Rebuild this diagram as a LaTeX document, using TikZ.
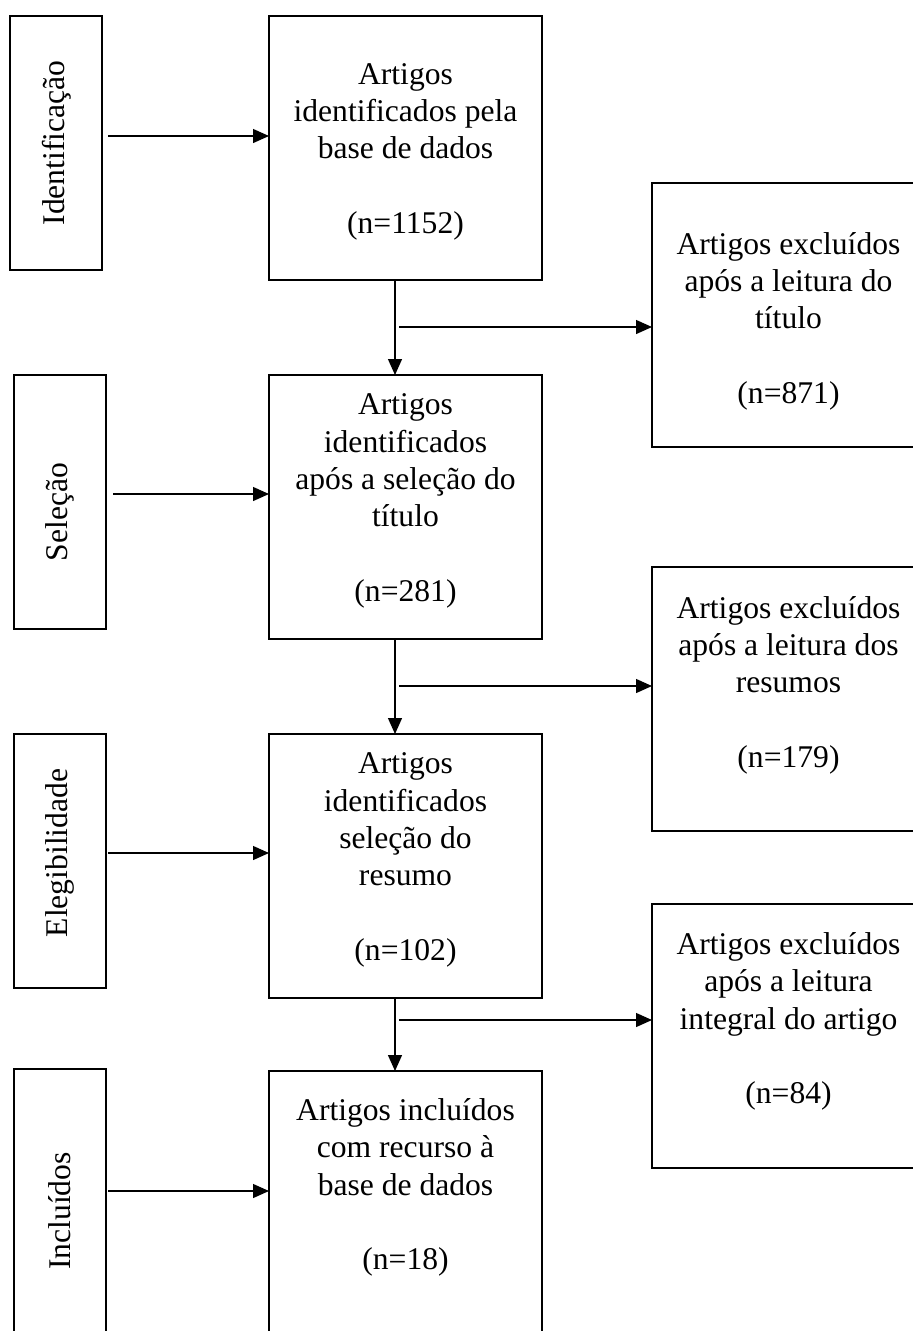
\documentclass[tikz,border=0pt]{standalone}
\usepackage{fontspec}
\setmainfont{Liberation Serif}
\usetikzlibrary{arrows.meta}
\begin{document}
\begin{tikzpicture}[x=1pt,y=-1pt,
  box/.style={draw=black,line width=2.6pt,outer sep=0pt,inner sep=0pt,anchor=north west},
  mbox/.style={box,minimum width=273pt,minimum height=264pt},
  sbox/.style={box,minimum width=92pt,minimum height=254pt},
  txt/.style={align=center,font=\fontsize{31.6}{37.3}\selectfont,inner sep=0pt},
  stxt/.style={font=\fontsize{31.6}{37.3}\selectfont,inner sep=0pt,rotate=90},
  arr/.style={line width=1.3pt,-{Triangle[length=16pt,width=14pt]}}]
\useasboundingbox (0,0) rectangle (913,1331);
\clip (0,0) rectangle (913,1331);

% left stage boxes
\node[sbox] (l1) at (10,16) {};
\node[sbox] (l2) at (14,375) {};
\node[sbox] (l3) at (14,734) {};
\node[box,minimum width=92pt,minimum height=280pt] (l4) at (14,1069) {};
\node[stxt] (l1t) at (57,143) {Identificação};
\node[stxt] (l2t) at (60,512) {Seleção};
\node[stxt] (l3t) at (60,853) {Elegibilidade};
\node[stxt] (l4t) at (60,1211) {Incluídos};

% centre boxes
\node[mbox] (c1) at (269,16) {};
\node[mbox] (c2) at (269,375) {};
\node[mbox] (c3) at (269,734) {};
\node[mbox] (c4) at (269,1071) {};
\node[txt] (c1t) at (405.5,151.5) {Artigos\\identificados pela\\base de dados\\[37.3pt](n=1152)};
\node[txt] (c2t) at (405.5,501) {Artigos\\identificados\\após a seleção do\\título\\[37.3pt](n=281)};
\node[txt] (c3t) at (405.5,860) {Artigos\\identificados\\seleção do\\resumo\\[37.3pt](n=102)};
\node[txt] (c4t) at (405.5,1187.5) {Artigos incluídos\\com recurso à\\base de dados\\[37.3pt](n=18)};

% right exclusion boxes
\node[mbox] (r1) at (652,183) {};
\node[mbox] (r2) at (652,567) {};
\node[mbox] (r3) at (652,904) {};
\node[txt] (r1t) at (788.5,321) {Artigos excluídos\\após a leitura do\\título\\[37.3pt](n=871)};
\node[txt] (r2t) at (788.5,685) {Artigos excluídos\\após a leitura dos\\resumos\\[37.3pt](n=179)};
\node[txt] (r3t) at (788.5,1021.5) {Artigos excluídos\\após a leitura\\integral do artigo\\[37.3pt](n=84)};

% arrows from stage labels
\coordinate (a1) at (108,136);
\coordinate (a2) at (113,494);
\coordinate (a3) at (108,853);
\coordinate (a4) at (108,1191);
\draw[arr] (a1) -- (a1 -| c1.west);
\draw[arr] (a2) -- (a2 -| c2.west);
\draw[arr] (a3) -- (a3 -| c3.west);
\draw[arr] (a4) -- (a4 -| c4.west);

% vertical flow
\draw[arr] ([xshift=-10.5pt]c1.south) -- ([xshift=-10.5pt]c2.north);
\draw[arr] ([xshift=-10.5pt]c2.south) -- ([xshift=-10.5pt]c3.north);
\draw[arr] ([xshift=-10.5pt]c3.south) -- ([xshift=-10.5pt]c4.north);

% exclusion arrows
\coordinate (s1) at (399,327);
\coordinate (s2) at (399,686);
\coordinate (s3) at (399,1020);
\draw[arr] (s1) -- (s1 -| r1.west);
\draw[arr] (s2) -- (s2 -| r2.west);
\draw[arr] (s3) -- (s3 -| r3.west);
\end{tikzpicture}
\end{document}
